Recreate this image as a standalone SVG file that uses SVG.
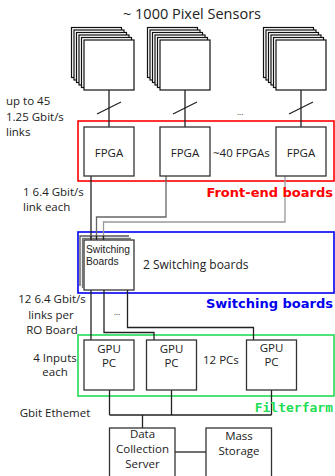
<svg xmlns="http://www.w3.org/2000/svg" width="335" height="476" viewBox="0 0 335 476">
<style>
text{font-family:"Open Sans","Noto Sans","DejaVu Sans",sans-serif;fill:#222;font-size:11.5px}
.box{fill:#fff;stroke:#333;stroke-width:1.3}
.sen{fill:#fff;stroke:#111;stroke-width:1.2}
.ln{fill:none;stroke:#222;stroke-width:1.3}
.c{text-anchor:middle}
.grp{fill:none;stroke-width:1.6}
.lbl{font-family:"DejaVu Sans",sans-serif;font-weight:bold;font-size:13px;text-anchor:end}
.sm{font-family:"Liberation Sans",Arial,sans-serif;font-size:10.3px}
</style>
<defs>
<g id="stack">
<rect class="sen" x="-12.5" y="-12.5" width="50" height="50"/>
<rect class="sen" x="-10" y="-10" width="50" height="50"/>
<rect class="sen" x="-7.5" y="-7.5" width="50" height="50"/>
<rect class="sen" x="-5" y="-5" width="50" height="50"/>
<rect class="sen" x="-2.5" y="-2.5" width="50" height="50"/>
<rect class="sen" x="0" y="0" width="50" height="50"/>
</g>
</defs>
<text class="c" x="192" y="19" style="font-size:14.5px">~ 1000 Pixel Sensors</text>
<g id="sensors1"><use href="#stack" x="84" y="40"/></g>
<g id="sensors2"><use href="#stack" x="160" y="40"/></g>
<g id="sensors3"><use href="#stack" x="276" y="40"/></g>

<g id="groups">
<rect class="grp" x="78" y="121" width="256" height="60" stroke="#ff0000"/>
<rect class="grp" x="78" y="232" width="256" height="61" stroke="#0000ee"/>
<rect class="grp" x="78" y="335" width="256" height="61" stroke="#22dd55"/>
</g>

<g id="connectors">
<path class="ln" d="M109 90V127M185 90V127M301 90V127"/>
<path class="ln" d="M97 114L121 102M173 114L197 102M289 114L313 102"/>
<path class="ln" d="M91 176V240"/>
<path fill="none" stroke="#666" stroke-width="1.3" d="M166 176V217H96.5V240"/>
<path fill="none" stroke="#999" stroke-width="1.3" d="M285 176V222H103.5V240"/>
<path class="ln" d="M91 290V340"/>
<path class="ln" d="M104 290V332.5H154V340"/>
<path class="ln" d="M127.5 290V327.5H253.5V340"/>
<path class="ln" d="M109.5 390V415M171.5 390V415M271.5 390V415M109.5 415H271.5M142.5 415V428"/>
<path class="ln" d="M175 452H206"/>
</g>

<g id="fpga1"><rect class="box" x="84" y="127" width="50" height="49"/><text class="c" x="109" y="157">FPGA</text></g>
<g id="fpga2"><rect class="box" x="160" y="127" width="50" height="49"/><text class="c" x="185" y="157">FPGA</text></g>
<g id="fpga3"><rect class="box" x="276" y="127" width="50" height="49"/><text class="c" x="301" y="157">FPGA</text></g>
<text x="213" y="157">~40 FPGAs</text>
<text x="237" y="115" style="font-size:8px">...</text>

<g id="switching">
<path fill="none" stroke="#555" stroke-width="1.3" d="M80 286V236H129"/>
<path fill="none" stroke="#777" stroke-width="1.3" d="M82.5 288V238.5H131"/>
<path class="ln" d="M91 236V240M96.5 236V240M103.5 236V240"/>
<rect class="box" x="84" y="240" width="50" height="50"/>
<text class="sm" x="86" y="252.5">Switching</text>
<text class="sm" x="86" y="265">Boards</text>
</g>
<text x="143" y="269" style="font-size:12px">2 Switching boards</text>
<text x="114" y="315" style="font-size:8px">...</text>

<g id="gpu1"><rect class="box" x="84" y="340" width="50" height="50"/><text class="c" x="109" y="353">GPU</text><text class="c" x="109" y="367">PC</text></g>
<g id="gpu2"><rect class="box" x="146.5" y="340" width="50" height="50"/><text class="c" x="171.5" y="353">GPU</text><text class="c" x="171.5" y="367">PC</text></g>
<g id="gpu3"><rect class="box" x="246.5" y="340" width="50" height="50"/><text class="c" x="271.5" y="352">GPU</text><text class="c" x="271.5" y="366">PC</text></g>
<text x="203" y="364">12 PCs</text>

<g id="dcs"><rect class="box" x="109.5" y="428" width="65.5" height="60"/>
<text class="c" x="142.5" y="437.5">Data</text><text class="c" x="142.5" y="453">Collection</text><text class="c" x="142.5" y="468">Server</text></g>
<g id="mass"><rect class="box" x="206" y="428" width="65.5" height="60"/>
<text class="c" x="239" y="440">Mass</text><text class="c" x="239" y="455">Storage</text></g>

<text class="lbl" x="333" y="197" style="fill:#ff0000">Front-end boards</text>
<text class="lbl" x="333" y="308" style="fill:#0000ee">Switching boards</text>
<text x="333" y="412" style="fill:#22dd55;font-family:'DejaVu Sans Mono',monospace;font-weight:bold;font-size:13px;text-anchor:end">Filterfarm</text>

<text x="6" y="105">up to 45</text>
<text x="6" y="120.5">1.25 Gbit/s</text>
<text x="6" y="136">links</text>
<text x="23" y="196">1 6.4 Gbit/s</text>
<text x="23" y="211">link each</text>
<text class="c" x="52" y="303">12 6.4 Gbit/s</text>
<text class="c" x="51" y="319">links per</text>
<text class="c" x="52" y="334">RO Board</text>
<text class="c" x="55" y="361.5">4 Inputs</text>
<text class="c" x="55" y="376">each</text>
<text class="c" x="55" y="417">Gbit Ethemet</text>
</svg>
